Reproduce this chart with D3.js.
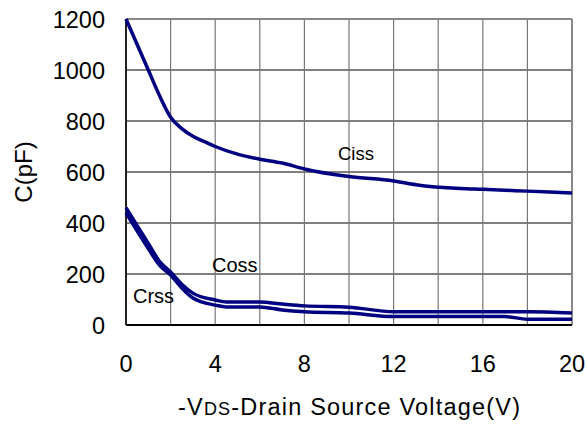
<!DOCTYPE html>
<html>
<head>
<meta charset="utf-8">
<script src="https://cdn.jsdelivr.net/npm/d3@7"></script>
<style>
  body { margin: 0; background: #fff; }
  text { font-family: "Liberation Sans", Arial, sans-serif; fill: #000; }
</style>
</head>
<body>
<script>
// data
let vds = [0, 1, 1.5, 2, 2.5, 3, 3.5, 4, 5, 6, 7, 8, 10, 12, 13, 15, 16, 18, 20]
let ciss = [1200, 1000, 900, 815, 770, 740, 720, 700, 670, 650, 635, 612, 582, 565, 550, 535, 532, 525, 518]

let vdsLow = [0, 1, 1.5, 2, 2.5, 3, 4, 4.5, 6, 7, 8, 10, 12, 16, 17, 18, 20]
let coss = [460, 320, 250, 208, 160, 125, 98, 90, 90, 82, 75, 70, 52, 52, 52, 52, 47]
let crss = [440, 300, 235, 196, 145, 106, 78, 71, 71, 59, 52, 47, 33, 33, 33, 23, 23]

let xTicks = [0, 4, 8, 12, 16, 20]
let xGrid = [2, 4, 6, 8, 10, 12, 14, 16, 18]
let yTicks = [0, 200, 400, 600, 800, 1000, 1200]

let width = 587, height = 425
let plotL = 126, plotR = 572, plotT = 19, plotB = 325

let svg = d3.select('body')
    .append('svg')
    .attr('width', width)
    .attr('height', height)

let x = d3.scaleLinear().domain([0, 20]).range([plotL, plotR])
let y = d3.scaleLinear().domain([0, 1200]).range([plotB, plotT])

// horizontal grid (black)
svg.selectAll('.hgrid')
    .data(yTicks.filter(d => d > 0 && d < 1200))
    .enter().append('line')
    .attr('x1', plotL).attr('x2', plotR)
    .attr('y1', d => y(d)).attr('y2', d => y(d))
    .style('stroke', '#000')
    .style('stroke-width', 1.2)

// vertical grid (gray)
svg.selectAll('.vgrid')
    .data(xGrid)
    .enter().append('line')
    .attr('x1', d => x(d)).attr('x2', d => x(d))
    .attr('y1', plotT).attr('y2', plotB)
    .style('stroke', '#777')
    .style('stroke-width', 1.2)

// frame: top and right gray, left and bottom dark
svg.append('line')
    .attr('x1', plotL).attr('x2', plotR).attr('y1', plotT).attr('y2', plotT)
    .style('stroke', '#888').style('stroke-width', 2)
svg.append('line')
    .attr('x1', plotR).attr('x2', plotR).attr('y1', plotT).attr('y2', plotB)
    .style('stroke', '#888').style('stroke-width', 2)
svg.append('line')
    .attr('x1', plotL).attr('x2', plotL).attr('y1', plotT).attr('y2', plotB)
    .style('stroke', '#222').style('stroke-width', 2)
svg.append('line')
    .attr('x1', plotL).attr('x2', plotR).attr('y1', plotB).attr('y2', plotB)
    .style('stroke', '#000').style('stroke-width', 2)

// tick labels
svg.selectAll('.xlab')
    .data(xTicks)
    .enter().append('text')
    .attr('x', d => x(d))
    .attr('y', 372)
    .attr('text-anchor', 'middle')
    .style('font-size', '23.5px')
    .text(d => d)

svg.selectAll('.ylab')
    .data(yTicks)
    .enter().append('text')
    .attr('x', 105)
    .attr('y', d => y(d) + 8.5)
    .attr('text-anchor', 'end')
    .style('font-size', '23.5px')
    .text(d => d)

// axis titles
svg.append('text')
    .attr('transform', 'translate(32,172) rotate(-90)')
    .attr('text-anchor', 'middle')
    .style('font-size', '24px')
    .text('C(pF)')

let xTitle = svg.append('text')
    .attr('x', 178)
    .attr('y', 415)
    .attr('textLength', 342)
    .attr('lengthAdjust', 'spacing')
    .style('font-size', '23.5px')
xTitle.append('tspan').text('-V')
xTitle.append('tspan').style('font-size', '18px').text('DS')
xTitle.append('tspan').text('-Drain Source Voltage(V)')

// curves
let line = d3.line()
    .x(d => x(d[0]))
    .y(d => y(d[1]))
    .curve(d3.curveMonotoneX)

svg.append('path')
    .datum(vds.map((v, i) => [v, ciss[i]]))
    .attr('d', line)
    .style('fill', 'none')
    .style('stroke', '#000080')
    .style('stroke-width', 3.5)

svg.append('path')
    .datum(vdsLow.map((v, i) => [v, coss[i]]))
    .attr('d', line)
    .style('fill', 'none')
    .style('stroke', '#000080')
    .style('stroke-width', 3.5)

svg.append('path')
    .datum(vdsLow.map((v, i) => [v, crss[i]]))
    .attr('d', line)
    .style('fill', 'none')
    .style('stroke', '#000080')
    .style('stroke-width', 3.5)

// curve labels
svg.append('text')
    .attr('x', 338).attr('y', 160)
    .style('font-size', '18.5px')
    .text('Ciss')
svg.append('text')
    .attr('x', 212).attr('y', 272)
    .style('font-size', '20px')
    .text('Coss')
svg.append('text')
    .attr('x', 133).attr('y', 303)
    .style('font-size', '20px')
    .text('Crss')
</script>
</body>
</html>
